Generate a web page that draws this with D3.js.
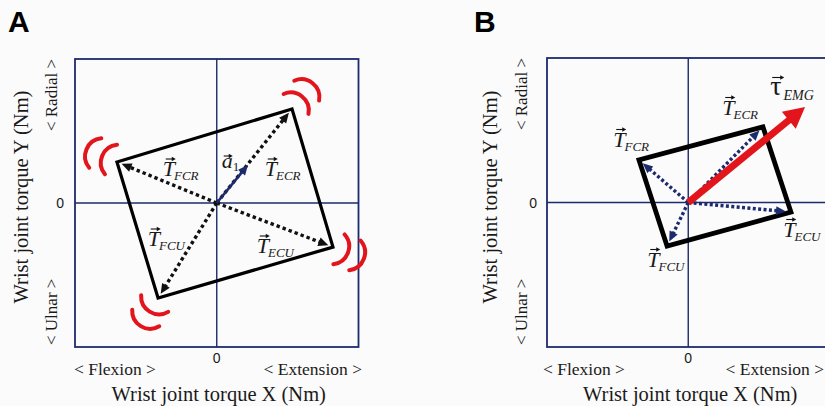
<!DOCTYPE html>
<html><head><meta charset="utf-8">
<script src="https://cdn.jsdelivr.net/npm/d3@7"></script>
<style>
html,body{margin:0;padding:0;background:#fbfbfb;}
svg{display:block;}
text{font-family:"Liberation Serif","Times New Roman",serif;fill:#1a1a1a;}
</style></head><body>
<svg id="chart" width="825" height="406"></svg>
<script>
// Muscle torque vectors in normalised units (X: flexion(-)/extension(+), Y: ulnar(-)/radial(+))
const muscles = ["FCR", "ECR", "FCU", "ECU"];
const torqueXA = [-0.704, 0.531, -0.414, 0.820];
const torqueYA = [0.285, 0.653, -0.660, -0.306];
const torqueXB = [-0.349, 0.529, -0.150, 0.727];
const torqueYB = [0.294, 0.523, -0.301, -0.066];
// order in which the muscle vectors form the outline of the torque region
const outlineOrder = ["ECR", "FCR", "FCU", "ECU"];
// first principal direction (panel A) and EMG-estimated torque (panel B)
const a1Vector = [0.22, 0.264];
const tauEMG = [0.827, 0.661];
const zeroTick = "0";
const xDirLabels = ["< Flexion >", "< Extension >"];
const yDirLabels = ["< Radial >", "< Ulnar >"];
const xTitle = "Wrist joint torque X (Nm)";
const yTitle = "Wrist joint torque Y (Nm)";
const panelLetters = ["A", "B"];

const svg = d3.select("#chart");
const NAVY = "#1c2b6e", RED = "#e1151b", INK = "#111";

function arrow(g, x0, y0, x1, y1, o) {
  const dx = x1 - x0, dy = y1 - y0, L = Math.hypot(dx, dy);
  const ux = dx / L, uy = dy / L;
  const bx = x1 - ux * o.headLen, by = y1 - uy * o.headLen;
  g.append("line").attr("x1", x0).attr("y1", y0)
    .attr("x2", bx + ux * 1).attr("y2", by + uy * 1)
    .attr("stroke", o.color).attr("stroke-width", o.width)
    .attr("stroke-dasharray", o.dash || null);
  const hw = o.headW / 2;
  g.append("path")
    .attr("d", `M${x1},${y1}L${bx - uy * hw},${by + ux * hw}L${bx + uy * hw},${by - ux * hw}Z`)
    .attr("fill", o.color);
}

function overArrow(g, xa, xb, y) {
  g.append("line").attr("x1", xa).attr("y1", y).attr("x2", xb - 2).attr("y2", y)
    .attr("stroke", INK).attr("stroke-width", 1.1);
  g.append("path").attr("d", `M${xb},${y}L${xb - 4},${y - 2.2}L${xb - 4},${y + 2.2}Z`).attr("fill", INK);
}

function vecLabel(g, x, y, main, sub, opt) {
  const t = g.append("text").attr("x", x).attr("y", y);
  t.append("tspan").text(main)
    .attr("font-size", opt.mainSize).attr("font-style", opt.mainItalic ? "italic" : "normal");
  t.append("tspan").text(sub).attr("dx", opt.subDx || 0).attr("dy", opt.subDy)
    .attr("font-size", opt.subSize).attr("font-style", opt.subItalic ? "italic" : "normal");
  overArrow(g, x + opt.arrowX[0], x + opt.arrowX[1], y - opt.arrowUp);
}

const panels = [
  { letter: panelLetters[0], letterX: 8, frame: { l: 75, r: 358.5, t: 59, b: 347 },
    tx: torqueXA, ty: torqueYA, rectWidth: 3.2, vecColor: INK, dash: "3.4,3", arcs: true,
    yTitleX: 28, radialX: 57, zeroX: 64, flexX: 74, extX: 362,
    labels: { FCR: [-54, -27], ECR: [48, -27], FCU: [-69, 43], ECU: [40, 50] } },
  { letter: panelLetters[1], letterX: 474, frame: { l: 547, r: 829.5, t: 58, b: 347 },
    tx: torqueXB, ty: torqueYB, rectWidth: 4.8, vecColor: NAVY, dash: "3,2.4", arcs: false,
    yTitleX: 497, radialX: 527, zeroX: 537, flexX: 543, extX: 824,
    labels: { FCR: [-75, -56], ECR: [34, -88], FCU: [-41, 64], ECU: [95, 34] } }
];

panels.forEach((p, pi) => {
  const f = p.frame;
  const x = d3.scaleLinear().domain([-1, 1]).range([f.l, f.r]);
  const y = d3.scaleLinear().domain([-1, 1]).range([f.b, f.t]);
  const X0 = x(0), Y0 = y(0);
  const g = svg.append("g");

  // panel letter
  g.append("text").attr("x", p.letterX).attr("y", 32).text(p.letter)
    .style("font-family", "'Liberation Sans',Arial,sans-serif").attr("font-weight", "bold")
    .attr("font-size", 30).style("fill", "#000");

  // frame and zero axes
  g.append("rect").attr("x", f.l).attr("y", f.t).attr("width", f.r - f.l).attr("height", f.b - f.t)
    .attr("fill", "none").attr("stroke", NAVY).attr("stroke-width", 1.8);
  g.append("line").attr("x1", X0).attr("x2", X0).attr("y1", f.t).attr("y2", f.b)
    .attr("stroke", NAVY).attr("stroke-width", 1.4);
  g.append("line").attr("x1", f.l).attr("x2", f.r).attr("y1", Y0).attr("y2", Y0)
    .attr("stroke", NAVY).attr("stroke-width", 1.4);

  // axis texts
  const sans = "'Liberation Sans',Arial,sans-serif";
  g.append("text").attr("x", X0).attr("y", 363).attr("text-anchor", "middle")
    .style("font-family", sans).attr("font-size", 14).text(zeroTick);
  g.append("text").attr("x", p.zeroX).attr("y", Y0 + 5).attr("text-anchor", "end")
    .style("font-family", sans).attr("font-size", 14).text(zeroTick);
  g.append("text").attr("x", p.flexX).attr("y", 375).attr("font-size", 17.5).text(xDirLabels[0]);
  g.append("text").attr("x", p.extX).attr("y", 375).attr("text-anchor", "end")
    .attr("font-size", 17.5).text(xDirLabels[1]);
  g.append("text").attr("x", X0 + 2).attr("y", 401).attr("text-anchor", "middle")
    .attr("font-size", 20.5).text(xTitle);
  g.append("text").attr("transform", `translate(${p.yTitleX},197) rotate(-90)`)
    .attr("text-anchor", "middle").attr("font-size", 20.5).text(yTitle);
  g.append("text").attr("transform", `translate(${p.radialX},${f.t}) rotate(-90)`)
    .attr("text-anchor", "end").attr("font-size", 17).text(yDirLabels[0]);
  g.append("text").attr("transform", `translate(${p.radialX},${f.b - 2}) rotate(-90)`)
    .attr("text-anchor", "start").attr("font-size", 17).text(yDirLabels[1]);

  // muscle torque vectors as points
  const pts = {};
  muscles.forEach((m, i) => { pts[m] = [x(p.tx[i]), y(p.ty[i])]; });

  // outline of the torque region
  const outline = outlineOrder.map(m => pts[m]);
  g.append("path").attr("d", d3.line()(outline) + "Z")
    .attr("fill", "none").attr("stroke", "#000").attr("stroke-width", p.rectWidth)
    .attr("stroke-linejoin", "miter");

  // dotted muscle vectors
  muscles.forEach(m => {
    const [px, py] = pts[m];
    const L = Math.hypot(px - X0, py - Y0), k = (L - 5) / L;
    arrow(g, X0, Y0, X0 + (px - X0) * k, Y0 + (py - Y0) * k,
      { color: p.vecColor, width: 3.4, dash: p.dash, headLen: 10, headW: 9 });
  });
  g.append("circle").attr("cx", X0).attr("cy", Y0).attr("r", 2.3).attr("fill", p.vecColor);

  // vibration marks at the corners
  if (p.arcs) {
    const R = 18, span = 62 * Math.PI / 180;
    muscles.forEach(m => {
      const [px, py] = pts[m];
      const th = Math.atan2(py - Y0, px - X0), ux = Math.cos(th), uy = Math.sin(th);
      [16, 33].forEach(apex => {
        const c = apex - R;
        const path = d3.path();
        const cx = px + ux * c, cy = py + uy * c;
        path.moveTo(cx + R * Math.cos(th - span), cy + R * Math.sin(th - span));
        path.arc(cx, cy, R, th - span, th + span);
        g.append("path").attr("d", path.toString()).attr("fill", "none")
          .attr("stroke", RED).attr("stroke-width", 4).attr("stroke-linecap", "round");
      });
    });
  }

  // vector labels
  muscles.forEach(m => {
    const [ox, oy] = p.labels[m];
    vecLabel(g, X0 + ox, Y0 + oy, "T", m,
      { mainSize: 22, mainItalic: true, subSize: 13, subItalic: true, subDx: -1, subDy: 4,
        arrowX: [3, 13], arrowUp: 17 });
  });

  if (pi === 0) {
    arrow(g, X0, Y0, x(a1Vector[0]), y(a1Vector[1]),
      { color: NAVY, width: 2.6, headLen: 10, headW: 9 });
    vecLabel(g, X0 + 5, Y0 - 35, "a", "1",
      { mainSize: 22, mainItalic: true, subSize: 13, subItalic: false, subDx: 0, subDy: 3,
        arrowX: [2, 11], arrowUp: 12 });
  } else {
    arrow(g, X0, Y0, x(tauEMG[0]), y(tauEMG[1]),
      { color: RED, width: 7, headLen: 21, headW: 22 });
    vecLabel(g, X0 + 82, Y0 - 108, "\u03C4", "EMG",
      { mainSize: 28, mainItalic: false, subSize: 14, subItalic: true, subDx: 2, subDy: 5,
        arrowX: [2, 14], arrowUp: 17 });
  }
});
</script>
</body></html>
